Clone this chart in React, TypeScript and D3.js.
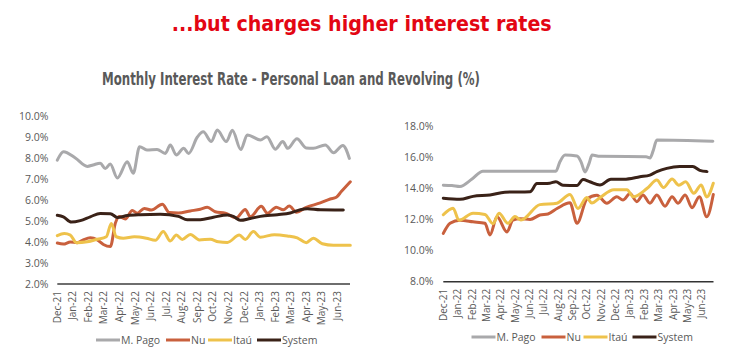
import React from "react";
import * as d3 from "d3";

const months = ["Dec-21","Jan-22","Feb-22","Mar-22","Apr-22","May-22","Jun-22","Jul-22","Aug-22","Sep-22","Oct-22","Nov-22","Dec-22","Jan-23","Feb-23","Mar-23","Apr-23","May-23","Jun-23"];
const seriesNames = ["M. Pago", "Nu", "Itaú", "System"];
const seriesColors = ["#a9a9ab", "#c9603d", "#eec24b", "#3a2218"];

// [month offset from Dec-21, rate %]
const loanMPago: [number, number][] = [[0,7.9],[0.4,8.3],[1.16,8.0],[1.93,7.6],[2.3,7.67],[2.76,7.75],[3.08,7.5],[3.4,7.71],[3.86,7.05],[4.5,7.82],[4.88,7.27],[5.29,8.54],[5.76,8.38],[6.41,8.41],[6.94,8.22],[7.26,8.62],[7.65,8.14],[8.12,8.46],[8.44,8.22],[9.0,9.0],[9.38,9.25],[9.9,8.78],[10.28,9.33],[10.86,8.78],[11.25,9.32],[11.79,8.4],[12.21,9.1],[13.05,8.86],[13.47,9.01],[14.01,8.42],[14.49,8.78],[14.81,8.46],[15.4,8.92],[16.0,8.48],[16.45,8.46],[17.22,8.62],[17.76,8.25],[18.35,8.6],[18.77,7.98]];
const loanNu: [number, number][] = [[0,3.95],[0.39,3.9],[0.84,4.0],[1.29,3.97],[1.67,4.1],[2.12,4.2],[2.57,4.1],[2.96,3.88],[3.41,3.78],[3.73,4.9],[3.98,5.22],[4.37,5.1],[4.82,5.5],[5.14,5.37],[5.59,5.6],[6.04,5.52],[6.75,5.8],[7.2,5.4],[7.78,5.38],[8.55,5.48],[9.19,5.56],[9.64,5.65],[10.15,5.44],[10.8,5.37],[11.5,5.15],[12.08,5.55],[12.4,5.2],[13.11,5.7],[13.5,5.37],[14.07,5.66],[14.52,5.53],[14.91,5.71],[15.36,5.42],[16.0,5.65],[16.9,5.86],[17.54,6.05],[17.93,6.13],[18.25,6.4],[18.83,6.87]];
const loanItau: [number, number][] = [[0,4.3],[0.45,4.4],[0.84,4.33],[1.22,3.97],[1.93,4.01],[2.57,4.13],[3.15,4.25],[3.47,4.88],[3.79,4.25],[4.24,4.18],[4.95,4.25],[5.72,4.18],[6.3,4.08],[6.81,4.5],[7.26,4.05],[7.65,4.33],[8.03,4.12],[8.55,4.36],[9.13,4.1],[9.83,4.13],[10.35,4.01],[10.93,3.98],[11.7,4.33],[12.08,4.12],[12.6,4.5],[13.05,4.23],[13.95,4.35],[14.78,4.29],[15.42,4.2],[16.0,3.97],[16.45,4.18],[17.03,3.92],[17.74,3.85],[18.83,3.85]];
const loanSystem: [number, number][] = [[0,5.27],[0.39,5.2],[0.9,4.95],[1.48,5.02],[2.12,5.2],[2.76,5.36],[3.41,5.35],[3.86,5.17],[4.5,5.26],[5.33,5.3],[6.62,5.32],[7.78,5.22],[8.35,5.06],[9.19,5.06],[10.03,5.18],[10.93,5.29],[11.31,5.22],[11.76,5.03],[12.4,5.12],[13.05,5.22],[14.14,5.3],[14.97,5.38],[15.62,5.54],[16.07,5.58],[16.9,5.53],[18.38,5.52]];

const revMPago: [number, number][] = [[0,14.2],[0.6,14.18],[1.16,14.12],[2.0,14.6],[2.76,15.1],[7.84,15.1],[8.12,15.7],[8.48,16.13],[9.31,16.08],[9.59,15.7],[9.87,15.05],[10.15,15.6],[10.36,16.13],[10.91,16.05],[14.12,16.03],[14.4,15.95],[14.61,16.4],[14.87,17.1],[18.77,17.02]];
const revNu: [number, number][] = [[0,11.1],[0.47,11.75],[1.16,11.95],[2.07,11.85],[2.9,11.75],[3.25,11.0],[3.74,12.17],[4.43,11.2],[4.85,11.96],[5.34,12.05],[6.04,12.0],[6.73,12.28],[7.29,12.35],[7.92,12.7],[8.82,13.07],[9.31,11.75],[10.0,13.3],[10.7,13.55],[11.39,13.04],[12.08,13.45],[12.51,13.25],[13.0,13.66],[13.48,13.14],[13.9,13.57],[14.39,13.04],[14.87,13.57],[15.44,12.85],[15.93,13.46],[16.35,13.04],[16.84,13.57],[17.32,12.75],[17.83,13.46],[18.34,12.17],[18.8,13.6]];
const revItau: [number, number][] = [[0,12.3],[0.68,12.72],[1.09,11.95],[2.07,12.4],[2.9,12.32],[3.46,11.72],[3.88,12.4],[4.5,11.75],[4.99,12.18],[5.41,11.96],[6.73,12.95],[7.91,13.04],[8.82,13.6],[9.38,12.7],[9.99,13.4],[10.34,13.05],[10.91,13.4],[11.88,13.9],[12.79,13.9],[13.23,13.45],[14.2,14.0],[14.87,14.53],[15.33,14.05],[15.93,14.6],[16.4,14.2],[16.88,14.42],[17.44,13.68],[17.96,14.21],[18.34,13.44],[18.8,14.32]];
const revSystem: [number, number][] = [[0,13.36],[1.16,13.29],[2.07,13.48],[3.25,13.57],[4.29,13.75],[6.04,13.78],[6.52,14.3],[7.42,14.33],[7.84,14.42],[8.33,14.2],[9.31,14.18],[9.73,14.56],[10.2,14.42],[10.91,14.21],[11.67,14.58],[12.58,14.58],[13.69,14.74],[14.39,14.85],[14.87,15.07],[15.56,15.28],[16.46,15.4],[17.37,15.4],[17.86,15.15],[18.36,15.07]];

const loanTicks = [2, 3, 4, 5, 6, 7, 8, 9, 10];
const revTicks = [8, 10, 12, 14, 16, 18];

const FONT = "'Open Sans', 'DejaVu Sans', sans-serif";
const TEXT = "#595959";

type Panel = {
  x0: number; x1: number; xEnd: number; xMax: number;
  yTop: number; yBottom: number; yMin: number; yMax: number;
  ticks: number[]; series: [number, number][][];
  labelRight: number; axisColor: string; axisWidth: number;
  legendY: number; legendX: number;
};

function ChartPanel({ p }: { p: Panel }) {
  const x = d3.scaleLinear().domain([0, months.length - 1]).range([p.x0, p.x1]);
  const y = d3.scaleLinear().domain([p.yMin, p.yMax]).range([p.yBottom, p.yTop]);
  const line = d3.line<[number, number]>().x(d => x(d[0])).y(d => y(d[1])).curve(d3.curveMonotoneX);
  const order = [0, 1, 2, 3];
  // legend layout
  const swatch = 24;
  const widths = [38, 10, 17, 32];
  let lx = p.legendX;
  const legendItems = seriesNames.map((n, i) => {
    const item = { n, i, x: lx };
    lx += swatch + widths[i] + 8;
    return item;
  });
  return (
    <g>
      {p.ticks.map(t => (
        <text key={t} x={p.labelRight} y={y(t)} dy="0.35em" textAnchor="end" fontSize={10.5} fill={TEXT} fontFamily={FONT}>
          {d3.format(".1f")(t) + "%"}
        </text>
      ))}
      <line x1={p.x0} x2={p.xEnd} y1={y(p.yMin)} y2={y(p.yMin)} stroke={p.axisColor} strokeWidth={p.axisWidth} />
      {months.map((m, i) => (
        <text key={m} transform={`translate(${x(i)},${y(p.yMin) + 7}) rotate(-90)`} textAnchor="end" dy="0.35em" fontSize={10} fill={TEXT} fontFamily={FONT}>
          {m}
        </text>
      ))}
      {order.map(i => (
        <path key={i} d={line(p.series[i]) || ""} fill="none" stroke={seriesColors[i]} strokeWidth={3} strokeLinejoin="round" strokeLinecap="round" />
      ))}
      {legendItems.map(it => (
        <g key={it.n}>
          <line x1={it.x} x2={it.x + swatch} y1={p.legendY} y2={p.legendY} stroke={seriesColors[it.i]} strokeWidth={3} />
          <text x={it.x + swatch + 1} y={p.legendY} dy="0.35em" fontSize={10.5} fill={TEXT} fontFamily={FONT}>{it.n}</text>
        </g>
      ))}
    </g>
  );
}

export default function App() {
  const left: Panel = {
    x0: 57.3, x1: 337.4, xEnd: 350, xMax: 18.83,
    yTop: 116, yBottom: 284, yMin: 2, yMax: 10,
    ticks: loanTicks, series: [loanMPago, loanNu, loanItau, loanSystem],
    labelRight: 48.5, axisColor: "#6e6e6e", axisWidth: 2, legendY: 340, legendX: 96,
  };
  const right: Panel = {
    x0: 443.3, x1: 701.8, xEnd: 713.5, xMax: 18.8,
    yTop: 126, yBottom: 281.7, yMin: 8, yMax: 18,
    ticks: revTicks, series: [revMPago, revNu, revItau, revSystem],
    labelRight: 433.5, axisColor: "#333333", axisWidth: 1.5, legendY: 337, legendX: 471.5,
  };
  return (
    <svg width={740} height={360} style={{ position: "absolute", left: 0, top: 0, background: "#fff" }}>
      <text x={171.7} y={31} fontSize={21} fontWeight="bold" fill="#e30613" fontFamily="'DejaVu Sans Condensed', 'DejaVu Sans', sans-serif" textLength={380} lengthAdjust="spacingAndGlyphs">
        ...but charges higher interest rates
      </text>
      <text x={102} y={85} fontSize={18} fontWeight="bold" fill="#595959" fontFamily="'DejaVu Sans Condensed', 'DejaVu Sans', sans-serif" textLength={378} lengthAdjust="spacingAndGlyphs">
        Monthly Interest Rate - Personal Loan and Revolving (%)
      </text>
      <ChartPanel p={left} />
      <ChartPanel p={right} />
    </svg>
  );
}
